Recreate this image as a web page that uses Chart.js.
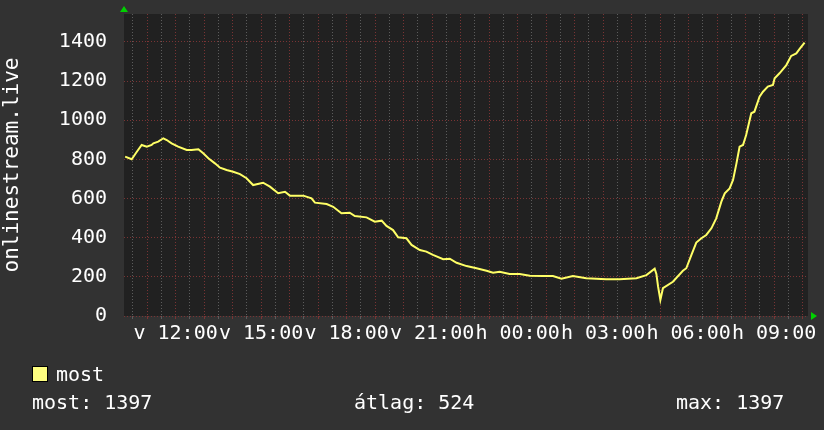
<!DOCTYPE html>
<html>
<head>
<meta charset="utf-8">
<script src="https://cdn.jsdelivr.net/npm/chart.js@4.4.0/dist/chart.umd.min.js"></script>
<style>
  body { margin: 0; background: #323232; }
  #wrap { position: relative; width: 824px; height: 430px; }
  .txt { position: absolute; font: 20px "DejaVu Sans Mono", monospace; color: #fff; line-height: 20px; white-space: pre; }
  #box { position: absolute; left: 32px; top: 366px; width: 14px; height: 14px; background: #ffff80; border: 1px solid #000; }
</style>
</head>
<body>
<div id="wrap">
  <canvas id="chart" width="824" height="430"></canvas>
  <div id="box"></div>
  <div class="txt" style="left:56px;top:364px">most</div>
  <div class="txt" id="stMost" style="left:32px;top:392px"></div>
  <div class="txt" id="stAvg" style="left:354px;top:392px"></div>
  <div class="txt" id="stMax" style="left:676px;top:392px"></div>
</div>
<script>
// idő (óra, 24 felett = másnap) és a "most" értékek
const hours = [10.23, 10.46, 10.64, 10.81, 10.99, 11.16, 11.22, 11.39, 11.57, 11.69, 11.86, 12.09, 12.39, 12.56, 12.80, 12.97,
  13.15, 13.38, 13.56, 13.79, 14.02, 14.26, 14.49, 14.72, 15.07, 15.31, 15.60, 15.84, 16.01, 16.48, 16.77, 16.89,
  17.30, 17.53, 17.82, 18.11, 18.29, 18.70, 18.99, 19.23, 19.40, 19.63, 19.81, 20.10, 20.28, 20.57, 20.80, 21.03,
  21.39, 21.62, 21.86, 22.21, 22.56, 22.91, 23.14, 23.37, 23.72, 24.07, 24.43, 24.89, 25.24, 25.54, 25.94, 26.41,
  27.11, 27.58, 28.17, 28.52, 28.81, 28.87, 28.93, 29.01, 29.10, 29.45, 29.80, 29.92, 30.10, 30.27, 30.45, 30.62,
  30.80, 30.97, 31.15, 31.27, 31.44, 31.56, 31.68, 31.79, 31.91, 32.02, 32.20, 32.31, 32.49, 32.61, 32.78, 32.96,
  33.02, 33.19, 33.43, 33.60, 33.78, 33.89, 34.07];
const most = [814, 801, 839, 874, 865, 874, 882, 891, 908, 899, 882, 865, 848, 848, 852, 831,
  806, 780, 758, 746, 737, 725, 704, 669, 681, 661, 627, 635, 615, 615, 601, 579,
  572, 558, 525, 528, 511, 504, 482, 487, 460, 439, 402, 397, 363, 337, 329, 312,
  290, 293, 272, 255, 244, 231, 221, 226, 215, 215, 206, 204, 204, 191, 204, 193,
  188, 188, 193, 209, 242, 215, 150, 82, 142, 175, 231, 244, 312, 375, 397, 414,
  448, 499, 584, 627, 652, 695, 780, 865, 874, 925, 1036, 1044, 1121, 1146, 1172, 1180,
  1215, 1240, 1282, 1329, 1342, 1363, 1397];

// tengely feliratok
const xLabelHours = [12, 15, 18, 21, 24, 27, 30, 33];
const xLabelTexts = ['v 12:00', 'v 15:00', 'v 18:00', 'v 21:00', 'h 00:00', 'h 03:00', 'h 06:00', 'h 09:00'];
const yTickValues = [0, 100, 200, 300, 400, 500, 600, 700, 800, 900, 1000, 1100, 1200, 1300, 1400, 1500];
const yLabelValues = [0, 200, 400, 600, 800, 1000, 1200, 1400];

const xMin = 10.19, xMax = 34.19;
const yMin = 0, yMax = 1543;

const statMost = 1397, statAvg = 524, statMax = 1397;

document.getElementById('stMost').textContent = 'most: ' + statMost;
document.getElementById('stAvg').textContent = '\u00e1tlag: ' + statAvg;
document.getElementById('stMax').textContent = 'max: ' + statMax;

const gridGray = '#5c5c5c';
const gridRed = '#7a3434';

const rrdLook = {
    id: 'rrdLook',
    beforeDraw(chart) {
        const { ctx, chartArea: a } = chart;
        ctx.save();
        ctx.fillStyle = '#323232';
        ctx.fillRect(0, 0, chart.width, chart.height);
        ctx.fillStyle = '#212121';
        ctx.fillRect(a.left, a.top, a.right - a.left, a.bottom - a.top);
        ctx.restore();
    },
    afterDraw(chart) {
        const { ctx, chartArea: a } = chart;
        ctx.save();
        ctx.fillStyle = '#00d000';
        // felfelé nyíl az y tengely tetején
        ctx.beginPath();
        ctx.moveTo(a.left - 4, a.top - 2);
        ctx.lineTo(a.left + 4, a.top - 2);
        ctx.lineTo(a.left, a.top - 8);
        ctx.closePath();
        ctx.fill();
        // jobbra nyíl az x tengely végén
        ctx.beginPath();
        ctx.moveTo(a.right + 3, a.bottom - 4);
        ctx.lineTo(a.right + 3, a.bottom + 4);
        ctx.lineTo(a.right + 9, a.bottom);
        ctx.closePath();
        ctx.fill();
        ctx.restore();
    }
};

new Chart(document.getElementById('chart').getContext('2d'), {
    type: 'line',
    data: {
        datasets: [{
            label: 'most',
            data: hours.map((h, i) => ({ x: h, y: most[i] })),
            borderColor: '#ffff66',
            borderWidth: 2,
            pointRadius: 0,
            tension: 0,
            fill: false
        }]
    },
    options: {
        responsive: false,
        animation: false,
        devicePixelRatio: 1,
        layout: { padding: { left: 0, top: 14, right: 16, bottom: 84 } },
        plugins: { legend: { display: false }, tooltip: { enabled: false } },
        scales: {
            x: {
                type: 'linear',
                min: xMin,
                max: xMax,
                afterBuildTicks(scale) {
                    const t = [];
                    for (let v = Math.ceil(xMin * 2) / 2; v <= xMax; v += 0.5) t.push({ value: v });
                    scale.ticks = t;
                },
                afterFit(scale) {
                    scale.height = 30;
                    scale.paddingLeft = 0;
                    scale.paddingRight = 0;
                },
                grid: {
                    color: c => (c.tick && c.tick.value % 1 === 0) ? gridRed : gridGray,
                    tickColor: c => (c.tick && c.tick.value % 1 === 0) ? gridRed : gridGray,
                    lineWidth: 1,
                    drawTicks: true,
                    tickLength: 3
                },
                border: { display: false, dash: [1, 2] },
                ticks: {
                    autoSkip: false,
                    maxRotation: 0,
                    padding: 3,
                    color: '#ffffff',
                    font: { family: 'DejaVu Sans Mono', size: 20 },
                    callback: v => {
                        const i = xLabelHours.indexOf(v);
                        return i >= 0 ? xLabelTexts[i] : '';
                    }
                }
            },
            y: {
                min: yMin,
                max: yMax,
                afterBuildTicks(scale) {
                    scale.ticks = yTickValues.map(v => ({ value: v }));
                },
                afterFit(scale) {
                    scale.width = 124;
                    scale.paddingTop = 0;
                    scale.paddingBottom = 0;
                },
                grid: {
                    color: c => (c.tick && c.tick.value % 200 === 0) ? gridRed : gridGray,
                    lineWidth: 1,
                    drawTicks: false
                },
                border: { display: false, dash: [1, 2] },
                ticks: {
                    padding: 17,
                    color: '#ffffff',
                    font: { family: 'DejaVu Sans Mono', size: 20 },
                    callback: v => yLabelValues.includes(v) ? String(v) : ''
                },
                title: {
                    display: true,
                    text: 'onlinestream.live',
                    color: '#ffffff',
                    font: { family: 'DejaVu Sans Mono', size: 21 },
                    padding: 0
                }
            }
        }
    },
    plugins: [rrdLook]
});
</script>
</body>
</html>
